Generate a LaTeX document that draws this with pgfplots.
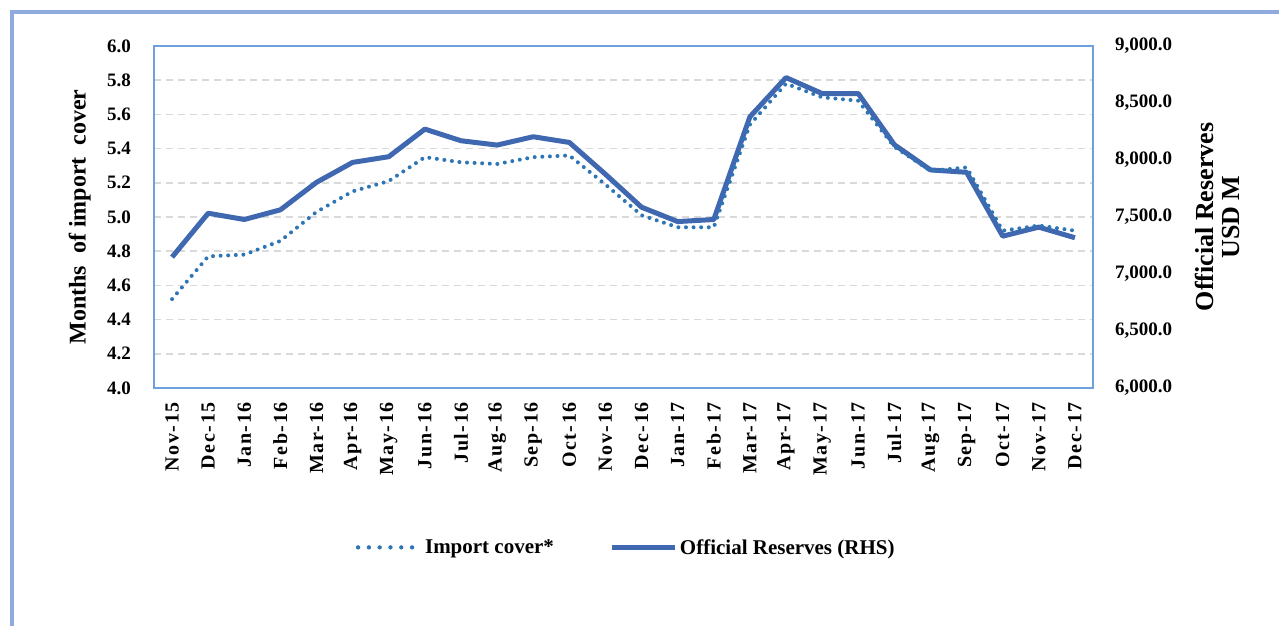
\documentclass[border=0pt]{standalone}
\usepackage{fontspec}
\setmainfont{Liberation Serif}
\usepackage{pgfplots}
\pgfplotsset{compat=1.18}
\definecolor{resblue}{RGB}{64,104,176}
\definecolor{impblue}{RGB}{46,117,182}
\definecolor{frameblue}{RGB}{143,170,220}
\definecolor{axblue}{RGB}{110,160,220}
\definecolor{gridgray}{RGB}{217,217,217}
\pgfplotsset{
  base/.style={at={(154pt,237pt)}, anchor=south west, scale only axis,
    width=939pt, height=342pt, xmin=-0.5, xmax=25.5,
    axis line style={axblue, line width=1.8pt},
    tick style={draw=none}, major tick length=0pt},
}
\begin{document}
\begin{tikzpicture}[x=1pt,y=1pt]
\useasboundingbox (0,0) rectangle (1279,625);
\fill[white] (0,0) rectangle (1279,625);
\draw[frameblue, line width=3.5pt] (12,-20) -- (12,613) -- (1300,613);

% left scale: grid, ticks, labels
\begin{axis}[base,
  ymin=4, ymax=6,
  ytick={4.0,4.2,4.4,4.6,4.8,5.0,5.2,5.4,5.6,5.8,6.0},
  ymajorgrids,
  major grid style={gridgray, line width=1.6pt, dash pattern=on 7pt off 5pt},
  xtick={0,...,25},
  xticklabels={Nov-15,Dec-15,Jan-16,Feb-16,Mar-16,Apr-16,May-16,Jun-16,Jul-16,Aug-16,Sep-16,Oct-16,Nov-16,Dec-16,Jan-17,Feb-17,Mar-17,Apr-17,May-17,Jun-17,Jul-17,Aug-17,Sep-17,Oct-17,Nov-17,Dec-17},
  xticklabel style={rotate=90, anchor=east, inner sep=0pt,
    font=\fontsize{20}{20}\selectfont\bfseries\addfontfeatures{LetterSpace=8}},
  xticklabel shift=14pt,
  yticklabel style={inner sep=0pt, font=\fontsize{19}{19}\selectfont\bfseries,
    /pgf/number format/.cd, fixed, fixed zerofill, precision=1, assume math mode=true},
  yticklabel shift=23pt,
  ylabel={Months\ \ of import\ \ cover},
  ylabel style={at={(axis description cs:-0.079,0.5)}, anchor=center,
    font=\fontsize{24}{24}\selectfont\bfseries},
]
\end{axis}

% right scale: official reserves
\begin{axis}[base,
  ymin=6000, ymax=9000,
  ytick={6000,6500,7000,7500,8000,8500,9000},
  axis y line*=right, axis x line=none,
  yticklabel style={inner sep=0pt, font=\fontsize{19}{19}\selectfont\bfseries,
    /pgf/number format/.cd, fixed, fixed zerofill, precision=1, 1000 sep={,}, assume math mode=true},
  yticklabel shift=22pt,
  ylabel={Official Reserves\\USD M},
  ylabel style={align=center, at={(axis description cs:1.1326,0.5)}, anchor=center,
    font=\fontsize{26}{26}\selectfont\bfseries},
]
\addplot[resblue, line width=5pt, line join=round] coordinates {
(0,7148) (1,7533) (2,7478) (3,7563) (4,7804) (5,7979) (6,8029) (7,8271)
(8,8169) (9,8131) (10,8204) (11,8154) (12,7875) (13,7586) (14,7460) (15,7478)
(16,8379) (17,8723) (18,8583) (19,8583) (20,8134) (21,7913) (22,7892) (23,7332)
(24,7411) (25,7318)
};
\end{axis}

% left scale: import cover (drawn on top)
\begin{axis}[base,
  ymin=4, ymax=6, hide axis,
  legend columns=2,
  legend style={at={(0.503,-0.466)}, anchor=center, draw=none, fill=none,
    font=\fontsize{21}{21}\selectfont\bfseries,
    /tikz/every even column/.append style={column sep=54pt}},
  legend image code/.code={\draw[#1] (0pt,0pt) -- (55pt,0pt); \path (0pt,0pt) -- (63pt,0pt);},
]
\addplot[impblue, line width=4pt, line cap=round, dash pattern=on 0pt off 7.6pt, forget plot] coordinates {
(0,4.52) (1,4.77) (2,4.78) (3,4.86) (4,5.03) (5,5.15) (6,5.21) (7,5.35)
(8,5.32) (9,5.31) (10,5.35) (11,5.36) (12,5.19) (13,5.01) (14,4.94) (15,4.94)
(16,5.54) (17,5.78) (18,5.70) (19,5.68) (20,5.41) (21,5.27) (22,5.29) (23,4.92)
(24,4.95) (25,4.92)
};
\addlegendimage{impblue, line width=4pt, line cap=round, dash pattern=on 0pt off 10.8pt}
\addlegendentry{Import cover*}
\addlegendimage{resblue, line width=5pt}
\addlegendentry{Official Reserves (RHS)}
\end{axis}
\end{tikzpicture}
\end{document}
